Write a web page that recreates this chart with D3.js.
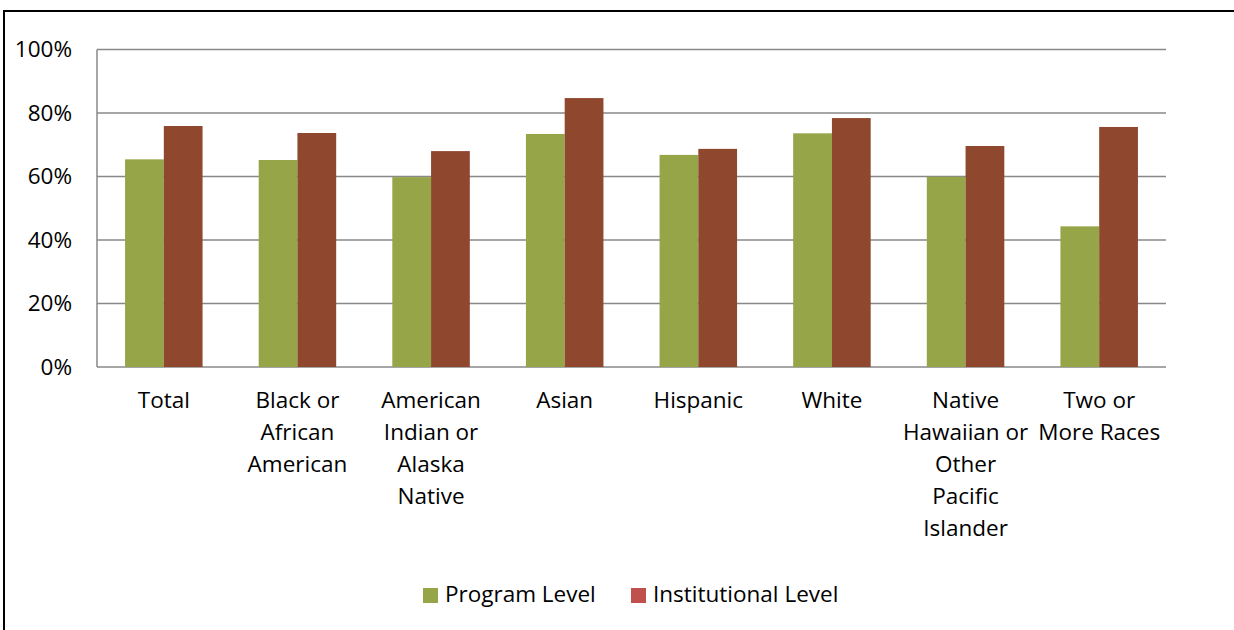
<!DOCTYPE html>
<html>
<head>
<meta charset="utf-8">
<script src="https://cdn.jsdelivr.net/npm/d3@7"></script>
<style>
  body { margin: 0; background: #fff; }
  svg { display: block; font-family: "Open Sans", sans-serif; }
</style>
</head>
<body>
<script>
const categories = [
  ['Total'],
  ['Black or', 'African', 'American'],
  ['American', 'Indian or', 'Alaska', 'Native'],
  ['Asian'],
  ['Hispanic'],
  ['White'],
  ['Native', 'Hawaiian or', 'Other', 'Pacific', 'Islander'],
  ['Two or', 'More Races']
];
const programLevel = [0.654, 0.652, 0.598, 0.734, 0.668, 0.736, 0.599, 0.443];
const institutionalLevel = [0.759, 0.737, 0.680, 0.847, 0.687, 0.784, 0.696, 0.756];
const yTicks = [0, 0.2, 0.4, 0.6, 0.8, 1.0];

const width = 1234;
const height = 630;
const margin = { top: 49.5, right: 68, bottom: 263, left: 97 };
const fontSize = 22.5;

const svg = d3.select('body').append('svg')
  .attr('width', width)
  .attr('height', height);

// outer frame (partially cropped)
svg.append('path')
  .attr('d', `M4,${height} V11 H${width}`)
  .attr('fill', 'none')
  .attr('stroke', '#000')
  .attr('stroke-width', 2);

const x = d3.scaleBand()
  .domain(d3.range(categories.length))
  .range([margin.left, width - margin.right])
  .paddingInner(0.42)
  .paddingOuter(0.21);

const y = d3.scaleLinear()
  .domain([0, 1])
  .range([height - margin.bottom, margin.top]);

const g = svg.append('g');

// gridlines
g.selectAll('.grid')
  .data(yTicks)
  .enter()
  .append('line')
  .attr('class', 'grid')
  .attr('x1', margin.left)
  .attr('x2', width - margin.right)
  .attr('y1', d => y(d))
  .attr('y2', d => y(d))
  .attr('stroke', '#888')
  .attr('stroke-width', 1.5);

g.append('line')
  .attr('x1', margin.left).attr('x2', margin.left)
  .attr('y1', y(1)).attr('y2', y(0))
  .attr('stroke', '#888')
  .attr('stroke-width', 1.5);

// y labels
g.selectAll('.ylab')
  .data(yTicks)
  .enter()
  .append('text')
  .attr('x', 72)
  .attr('y', d => y(d))
  .attr('dy', '0.35em')
  .attr('text-anchor', 'end')
  .attr('font-size', fontSize)
  .attr('fill', '#000')
  .text(d => d3.format('.0%')(d));

const bw = x.bandwidth() / 2;

g.selectAll('.prog')
  .data(programLevel)
  .enter()
  .append('rect')
  .attr('x', (d, i) => x(i))
  .attr('y', d => y(d))
  .attr('width', bw)
  .attr('height', d => y(0) - y(d))
  .attr('fill', '#95a547');

g.selectAll('.inst')
  .data(institutionalLevel)
  .enter()
  .append('rect')
  .attr('x', (d, i) => x(i) + bw)
  .attr('y', d => y(d))
  .attr('width', bw)
  .attr('height', d => y(0) - y(d))
  .attr('fill', '#8f472d');

// x labels
const xl = g.selectAll('.xlab')
  .data(categories)
  .enter()
  .append('text')
  .attr('text-anchor', 'middle')
  .attr('font-size', fontSize)
  .attr('fill', '#000');

xl.selectAll('tspan')
  .data((d, i) => d.map(t => ({ t, i })))
  .enter()
  .append('tspan')
  .attr('x', d => x(d.i) + x.bandwidth() / 2)
  .attr('y', (d, j) => 408 + j * 32)
  .text(d => d.t);

// legend
const legend = [
  { label: 'Program Level', color: '#95a547', x: 423 },
  { label: 'Institutional Level', color: '#c0504d', x: 631 }
];
const lg = svg.selectAll('.legend')
  .data(legend)
  .enter()
  .append('g')
  .attr('transform', d => `translate(${d.x},588)`);
lg.append('rect')
  .attr('width', 15)
  .attr('height', 15)
  .attr('fill', d => d.color);
lg.append('text')
  .attr('x', 22)
  .attr('y', 6.5)
  .attr('dy', '0.35em')
  .attr('font-size', fontSize)
  .text(d => d.label);
</script>
</body>
</html>
